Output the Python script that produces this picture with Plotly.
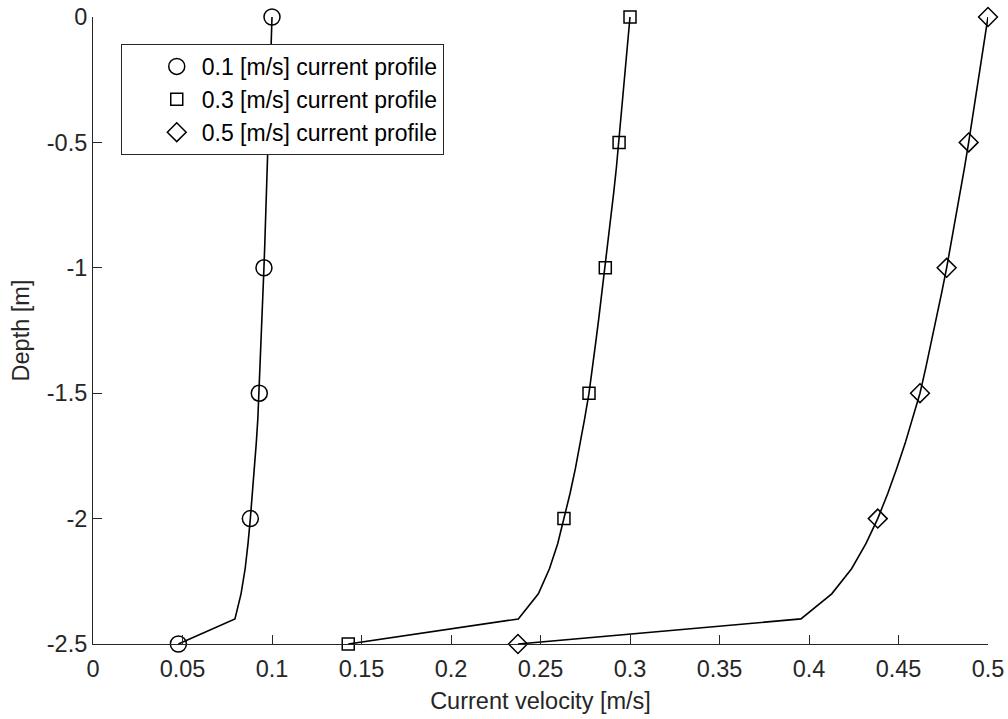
import plotly.graph_objects as go

# Depth levels for the profile lines [m]
depth_line = [0.0, -0.1, -0.2, -0.3, -0.4, -0.5, -0.6, -0.7, -0.8, -0.9,
              -1.0, -1.1, -1.2, -1.3, -1.4, -1.5, -1.6, -1.7, -1.8, -1.9,
              -2.0, -2.1, -2.2, -2.3, -2.4, -2.5]

# Velocities [m/s]
v01_line = [0.1000, 0.0996, 0.0992, 0.0988, 0.0984, 0.0979, 0.0974, 0.0969, 0.0965, 0.0960,
            0.0955, 0.0950, 0.0945, 0.0940, 0.0935, 0.0929, 0.0921, 0.0912, 0.0902, 0.0891,
            0.0879, 0.0866, 0.0850, 0.0827, 0.0793, 0.0477]
v03_line = [0.3000, 0.2988, 0.2976, 0.2964, 0.2952, 0.2939, 0.2924, 0.2909, 0.2893, 0.2877,
            0.2862, 0.2844, 0.2826, 0.2808, 0.2790, 0.2771, 0.2747, 0.2722, 0.2695, 0.2665,
            0.2631, 0.2596, 0.2550, 0.2488, 0.2376, 0.1426]
v05_line = [0.5000, 0.4979, 0.4958, 0.4936, 0.4914, 0.4892, 0.4869, 0.4845, 0.4820, 0.4795,
            0.4769, 0.4741, 0.4712, 0.4683, 0.4652, 0.4620, 0.4580, 0.4537, 0.4490, 0.4440,
            0.4384, 0.4318, 0.4238, 0.4127, 0.3955, 0.2374]

# Marker depths and values
depth_mark = [0.0, -0.5, -1.0, -1.5, -2.0, -2.5]
v01_mark = [0.1000, 0.0979, 0.0955, 0.0929, 0.0879, 0.0477]
v03_mark = [0.3000, 0.2939, 0.2862, 0.2771, 0.2631, 0.1426]
v05_mark = [0.5000, 0.4892, 0.4769, 0.4620, 0.4384, 0.2374]

series_names = ["0.1 [m/s] current profile", "0.3 [m/s] current profile",
                "0.5 [m/s] current profile"]

x_tickvals = [0, 0.05, 0.1, 0.15, 0.2, 0.25, 0.3, 0.35, 0.4, 0.45, 0.5]
x_ticktext = ["0", "0.05", "0.1", "0.15", "0.2", "0.25", "0.3", "0.35", "0.4", "0.45", "0.5"]
y_tickvals = [0, -0.5, -1, -1.5, -2, -2.5]
y_ticktext = ["0", "-0.5", "-1", "-1.5", "-2", "-2.5"]

FONT = "Liberation Sans, Arial, Helvetica, sans-serif"
TXT = "#262626"
FS = 23.5

fig = go.Figure()

for vl in (v01_line, v03_line, v05_line):
    fig.add_trace(go.Scatter(x=vl, y=depth_line, mode="lines",
                             line=dict(color="black", width=1.6),
                             showlegend=False, hoverinfo="skip"))

symbols = ["circle-open", "square-open", "diamond-open"]
sizes = [16, 12, 14.5]
for name, vm, sym, sz in zip(series_names, (v01_mark, v03_mark, v05_mark), symbols, sizes):
    fig.add_trace(go.Scatter(x=vm, y=depth_mark, mode="markers", name=name,
                             marker=dict(symbol=sym, size=sz, color="black",
                                         line=dict(color="black", width=1.5)),
                             cliponaxis=False))

fig.update_layout(
    width=1008, height=719,
    margin=dict(l=93, r=20, t=17, b=75),
    paper_bgcolor="white", plot_bgcolor="white",
    font=dict(family=FONT, size=FS, color=TXT),
    showlegend=True,
    legend=dict(x=0.031, y=0.957, xanchor="left", yanchor="top",
                bgcolor="white", bordercolor=TXT, borderwidth=1,
                font=dict(family=FONT, size=23, color="black"),
                indentation=30, itemwidth=40, tracegroupgap=0),
    xaxis=dict(range=[0, 0.5], tickvals=x_tickvals, ticktext=x_ticktext,
               showline=True, linecolor=TXT, linewidth=1, mirror=False,
               ticks="inside", ticklen=9, tickcolor=TXT, tickwidth=1,
               showgrid=False, zeroline=False, automargin=False,
               ticklabelstandoff=4, ticklabeloverflow="allow",
               title=dict(text="Current velocity [m/s]", standoff=11,
                          font=dict(family=FONT, size=FS, color=TXT)),
               tickfont=dict(family=FONT, size=FS, color=TXT)),
    yaxis=dict(range=[-2.5, 0], tickvals=y_tickvals, ticktext=y_ticktext,
               showline=True, linecolor=TXT, linewidth=1, mirror=False,
               ticks="inside", ticklen=9, tickcolor=TXT, tickwidth=1,
               showgrid=False, zeroline=False, automargin=False,
               ticklabeloverflow="allow",
               title=dict(text="Depth [m]", standoff=10,
                          font=dict(family=FONT, size=FS, color=TXT)),
               tickfont=dict(family=FONT, size=FS, color=TXT)),
)

# Remove the default page margin so the 1008x719 figure fills the window exactly.
fig.write_html("out.html",
               config={"displayModeBar": False},
               post_script="document.body.style.margin='0';document.body.style.overflow='hidden';")
